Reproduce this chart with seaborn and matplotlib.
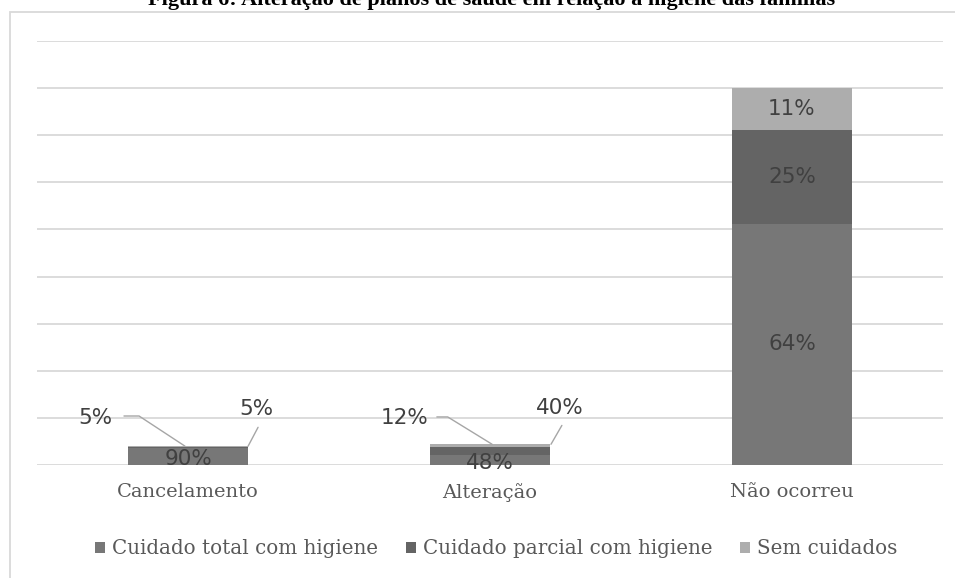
import matplotlib
matplotlib.use("Agg")
import matplotlib.pyplot as plt
from matplotlib.patches import Patch, Rectangle
import numpy as np
import pandas as pd
import seaborn as sns

# Categories and per-bar composition (percent of each bar) plus bar totals
categorias = ["Cancelamento", "Alteração", "Não ocorreu"]
totais = [20, 22, 400]
pct_total = [90, 48, 64]      # Cuidado total com higiene
pct_parcial = [5, 40, 25]     # Cuidado parcial com higiene
pct_sem = [5, 12, 11]         # Sem cuidados
series = ["Cuidado total com higiene", "Cuidado parcial com higiene", "Sem cuidados"]
titulo = "Figura 6: Alteração de planos de saúde em relação à higiene das famílias"

cores = ["#777777", "#646464", "#adadad"]
cor_texto = "#404040"
cor_grade = "#d9d9d9"

sns.set_theme(style="white")
plt.rcParams["font.family"] = ["DejaVu Sans"]

h_total = np.array(totais) * np.array(pct_total) / 100
h_parcial = np.array(totais) * np.array(pct_parcial) / 100
h_sem = np.array(totais) * np.array(pct_sem) / 100

df = pd.DataFrame({
    "categoria": categorias,
    "nivel1": h_total,
    "nivel2": h_total + h_parcial,
    "nivel3": h_total + h_parcial + h_sem,
})

W, H = 955, 578
fig = plt.figure(figsize=(W / 100, H / 100), dpi=100)
ax = fig.add_axes([37 / W, 1 - 465 / H, 906 / W, 424 / H])

# Stacked bars: draw cumulative heights from the top layer down
for col, cor in zip(["nivel3", "nivel2", "nivel1"], cores[::-1]):
    sns.barplot(data=df, x="categoria", y=col, color=cor, width=0.4,
                saturation=1, linewidth=0, ax=ax, zorder=3)

ax.set_xlim(-0.5, 2.5)
ax.set_ylim(0, 450)
ax.set_yticks(np.arange(0, 451, 50))
ax.yaxis.grid(True, color=cor_grade, linewidth=1.3, zorder=0)
ax.set_axisbelow(True)
ax.tick_params(axis="y", left=False, labelleft=False)
ax.tick_params(axis="x", length=0, pad=13, labelsize=14, labelcolor="#595959")
for lbl in ax.get_xticklabels():
    lbl.set_family("DejaVu Serif")
ax.set_xlabel("")
ax.set_ylabel("")
for s in ax.spines.values():
    s.set_visible(False)

fs = 15.5
# Labels inside the large bar
i = 2
bases = [0, h_total[i], h_total[i] + h_parcial[i]]
for base, h, p in zip(bases, [h_total[i], h_parcial[i], h_sem[i]],
                      [pct_total[i], pct_parcial[i], pct_sem[i]]):
    ax.text(i, base + h / 2, f"{p}%", ha="center", va="center",
            fontsize=fs, color=cor_texto, zorder=5)

# Small bars: bottom label centred, the others pulled out with leader lines
leader = {
    0: dict(left_txt=(-0.25, 50), left_line=[(-0.212, 52), (-0.162, 52), (-0.01, None)],
            right_txt=(0.226, 59), right_line=[(0.232, 40), (0.199, None)]),
    1: dict(left_txt=(-0.205, 50), left_line=[(-0.176, 51), (-0.140, 51), (0.007, None)],
            right_txt=(0.232, 60.5), right_line=[(0.238, 42), (0.202, None)]),
}
for i in (0, 1):
    topo = h_total[i] + h_parcial[i] + h_sem[i]
    ax.text(i, h_total[i] / 2 - 3, f"{pct_total[i]}%", ha="center", va="center",
            fontsize=fs, color=cor_texto, zorder=5)
    L = leader[i]
    ax.text(i + L["left_txt"][0], L["left_txt"][1], f"{pct_sem[i]}%", ha="right",
            va="center", fontsize=fs, color=cor_texto, zorder=5)
    xs = [i + dx for dx, _ in L["left_line"]]
    ys = [topo if dy is None else dy for _, dy in L["left_line"]]
    ax.plot(xs, ys, color="#a6a6a6", lw=1.0, zorder=4)
    ax.text(i + L["right_txt"][0], L["right_txt"][1], f"{pct_parcial[i]}%", ha="center",
            va="center", fontsize=fs, color=cor_texto, zorder=5)
    xs = [i + dx for dx, _ in L["right_line"]]
    ys = [topo if dy is None else dy for _, dy in L["right_line"]]
    ax.plot(xs, ys, color="#a6a6a6", lw=1.0, zorder=4)

# Legend
handles = [Patch(facecolor=c, edgecolor="none", label=s) for c, s in zip(cores, series)]
leg = fig.legend(handles=handles, loc="center", bbox_to_anchor=(496 / W, 1 - 549 / H),
                 ncol=3, frameon=False, handlelength=0.5, handleheight=0.5,
                 handletextpad=0.35, columnspacing=1.4,
                 prop={"family": "DejaVu Serif", "size": 14.3})
for t in leg.get_texts():
    t.set_color("#595959")

# Chart frame and caption
fig.patches.append(Rectangle((10 / W, -0.05), 1.2, 1 - 12 / H + 0.05,
                             transform=fig.transFigure, fill=False,
                             edgecolor=cor_grade, linewidth=1.3))
fig.text(492 / W, 1 - 5 / H, titulo, ha="center", va="baseline",
         fontsize=16, fontweight="bold", family="Liberation Serif", color="black")

fig.savefig("out.png", dpi=100)
